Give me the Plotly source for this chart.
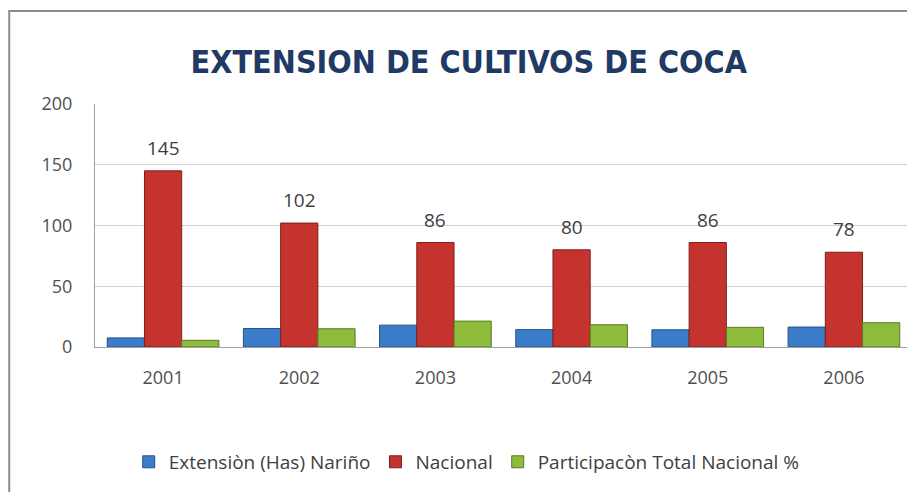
import plotly.graph_objects as go

years = ["2001", "2002", "2003", "2004", "2005", "2006"]
narino = [7.5, 15.2, 18, 14.3, 14.2, 16.4]
nacional = [145, 102, 86, 80, 86, 78]
participacion = [5.5, 15, 21.3, 18.3, 16.2, 20]
nacional_text = ["145", "102", "86", "80", "86", "78"]

fig = go.Figure()
fig.add_trace(go.Bar(
    x=years, y=narino, name="Extensiòn (Has) Nariño",
    marker=dict(color="#3B7DC9", line=dict(color="#24528A", width=1)),
))
fig.add_trace(go.Bar(
    x=years, y=nacional, name="Nacional",
    marker=dict(color="#C5332F", line=dict(color="#7E1E1B", width=1)),
))
fig.add_trace(go.Bar(
    x=years, y=participacion, name="Participacòn Total Nacional %",
    marker=dict(color="#8DBB3C", line=dict(color="#5A7A22", width=1)),
))

# etiquetas de Nacional sobre cada barra (x = indice de la categoria)
for i, (val, txt) in enumerate(zip(nacional, nacional_text)):
    fig.add_annotation(
        x=i, y=val, xref="x", yref="y", text=txt, showarrow=False,
        yshift=23, font=dict(size=19, color="#404040"),
    )

# la pagina agrega 8px de margen, por eso el tamaño es 907x484
fig.update_layout(
    width=907, height=484,
    margin=dict(l=87, r=3, t=96, b=145, autoexpand=False),
    paper_bgcolor="white", plot_bgcolor="white",
    font=dict(family="Open Sans", color="#505050", size=18),
    title=dict(
        text="<b>EXTENSION DE CULTIVOS DE COCA</b>",
        x=0.508, xanchor="center", y=0.888, yanchor="middle",
        font=dict(family="DejaVu Sans Condensed", size=32, color="#1F3A64"),
    ),
    barmode="group", bargap=0.18, bargroupgap=0,
    showlegend=True,
    legend=dict(
        orientation="h", x=0.455, xanchor="center", y=-0.473, yanchor="middle",
        font=dict(size=19, color="#404040"), itemwidth=30,
    ),
    xaxis=dict(
        type="category",
        showline=True, linecolor="#A0A0A0", ticks="", automargin=False,
        tickfont=dict(size=18, color="#505050"), ticklabelstandoff=14,
    ),
    yaxis=dict(
        range=[0, 200], dtick=50, showgrid=True, gridcolor="#D0D0D0",
        showline=True, linecolor="#A0A0A0", zeroline=False, automargin=False,
        tickfont=dict(size=18, color="#505050"), ticklabelstandoff=18,
    ),
    shapes=[dict(
        type="rect", xref="paper", yref="paper",
        x0=-0.105, x1=1.1, y0=-0.7, y1=1.383,
        line=dict(color="#8C8C8C", width=2),
    )],
)

fig.write_html("out.html")
